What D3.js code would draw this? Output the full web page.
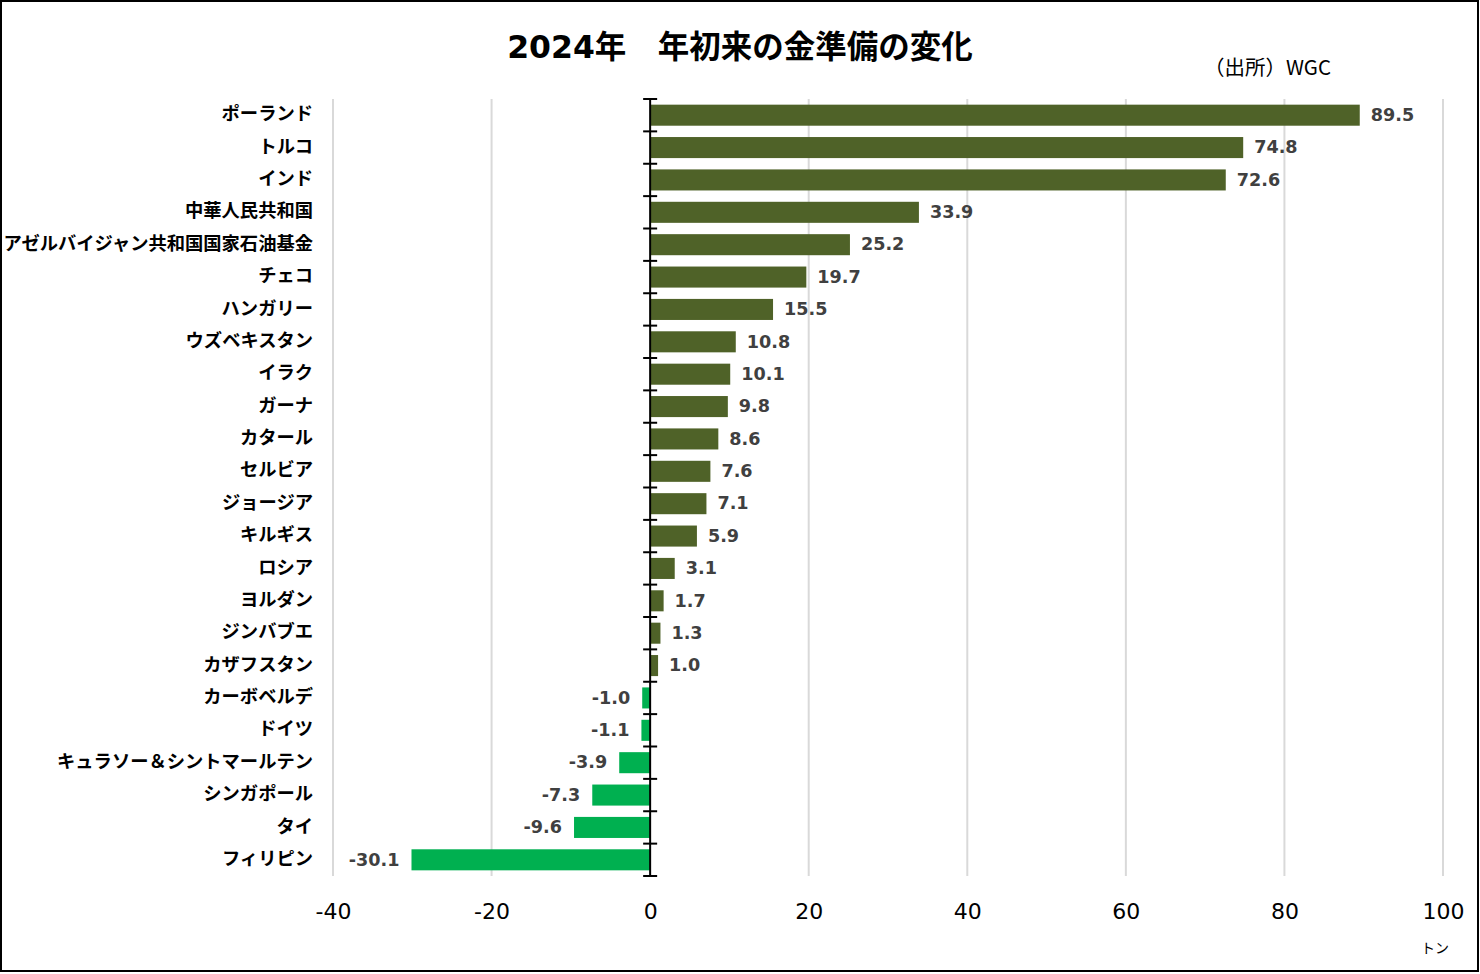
<!DOCTYPE html>
<html>
<head>
<meta charset="utf-8">
<script src="https://cdn.jsdelivr.net/npm/d3@7"></script>
<style>
  html, body { margin: 0; padding: 0; background: #fff; }
  svg { display: block; }
</style>
</head>
<body>
<svg id="chart" width="1480" height="974"></svg>
<script>
const categories = ["ポーランド","トルコ","インド","中華人民共和国","アゼルバイジャン共和国国家石油基金","チェコ","ハンガリー","ウズベキスタン","イラク","ガーナ","カタール","セルビア","ジョージア","キルギス","ロシア","ヨルダン","ジンバブエ","カザフスタン","カーボベルデ","ドイツ","キュラソー＆シントマールテン","シンガポール","タイ","フィリピン"];
const values = [89.5,74.8,72.6,33.9,25.2,19.7,15.5,10.8,10.1,9.8,8.6,7.6,7.1,5.9,3.1,1.7,1.3,1.0,-1.0,-1.1,-3.9,-7.3,-9.6,-30.1];
const xTicks = [-40,-20,0,20,40,60,80,100];
const title = "2024年　年初来の金準備の変化";
const source = "（出所）WGC";
const unit = "トン";

const FONT = "'DejaVu Sans','Noto Sans CJK JP',sans-serif";
const JFONT = "'Noto Sans CJK JP','DejaVu Sans',sans-serif";
const svg = d3.select("#chart");

svg.append("rect").attr("x",1).attr("y",1).attr("width",1477).attr("height",970)
  .attr("fill","#fff").attr("stroke","#000").attr("stroke-width",2);

const plot = {left:333, right:1443, top:99, bottom:876};
const x = d3.scaleLinear().domain([-40,100]).range([plot.left, plot.right]);
const y = d3.scaleBand().domain(categories).range([plot.top, plot.bottom]).paddingInner(0.35).paddingOuter(0.175);

// gridlines
svg.append("g").selectAll("line").data(xTicks.filter(d=>d!==0)).join("line")
  .attr("x1",d=>x(d)).attr("x2",d=>x(d)).attr("y1",plot.top).attr("y2",plot.bottom)
  .attr("stroke","#d9d9d9").attr("stroke-width",2);

// bars
svg.append("g").selectAll("rect").data(categories).join("rect")
  .attr("x",(d,i)=>x(Math.min(0,values[i])))
  .attr("width",(d,i)=>Math.abs(x(values[i])-x(0)))
  .attr("y",d=>y(d)).attr("height",y.bandwidth())
  .attr("fill",(d,i)=>values[i]>=0?"#4F6228":"#00B050");

// value labels
svg.append("g").selectAll("text").data(categories).join("text")
  .attr("x",(d,i)=>values[i]>=0 ? x(values[i])+11 : x(values[i])-12)
  .attr("y",d=>y(d)+y.bandwidth()/2)
  .attr("dy","0.33em")
  .attr("text-anchor",(d,i)=>values[i]>=0?"start":"end")
  .attr("font-family",FONT).attr("font-weight","bold").attr("font-size",17.6)
  .attr("fill","#404040")
  .text((d,i)=>values[i].toFixed(1));

// category axis at zero
const yAxisG = svg.append("g");
yAxisG.append("line").attr("x1",x(0)).attr("x2",x(0)).attr("y1",plot.top).attr("y2",plot.bottom)
  .attr("stroke","#000").attr("stroke-width",2);
const bounds = d3.range(categories.length+1).map(i=>plot.top + i*(plot.bottom-plot.top)/categories.length);
yAxisG.selectAll("line.tk").data(bounds).join("line").attr("class","tk")
  .attr("x1",x(0)-7).attr("x2",x(0)+7).attr("y1",d=>d).attr("y2",d=>d)
  .attr("stroke","#000").attr("stroke-width",2);

// category labels
svg.append("g").selectAll("text").data(categories).join("text")
  .attr("x",313).attr("y",d=>y(d)+y.bandwidth()/2).attr("dy","0.28em")
  .attr("text-anchor","end")
  .attr("font-family",JFONT).attr("font-weight","bold").attr("font-size",18.3)
  .attr("fill","#000").text(d=>d);

// x axis tick labels
const xAxis = d3.axisBottom(x).tickValues(xTicks).tickSize(0).tickPadding(0).tickFormat(d3.format("d"));
const xg = svg.append("g").attr("transform",`translate(0,${plot.bottom})`).call(xAxis);
xg.select(".domain").remove();
xg.selectAll("text").attr("font-family",FONT).attr("font-size",22).attr("fill","#000")
  .attr("dy",null).attr("y",43).text(d=>d<0?"-"+Math.abs(d):d);

// title
svg.append("text").attr("x",740).attr("y",58).attr("text-anchor","middle")
  .attr("font-family",FONT).attr("font-weight","bold").attr("font-size",31.5).attr("fill","#000")
  .text(title);
svg.append("text").attr("x",1204).attr("y",75)
  .attr("font-family",JFONT).attr("font-size",20.5).attr("fill","#000").text(source);
svg.append("text").attr("x",1421).attr("y",953)
  .attr("font-family",JFONT).attr("font-size",14).attr("fill","#000").text(unit);
</script>
</body>
</html>
